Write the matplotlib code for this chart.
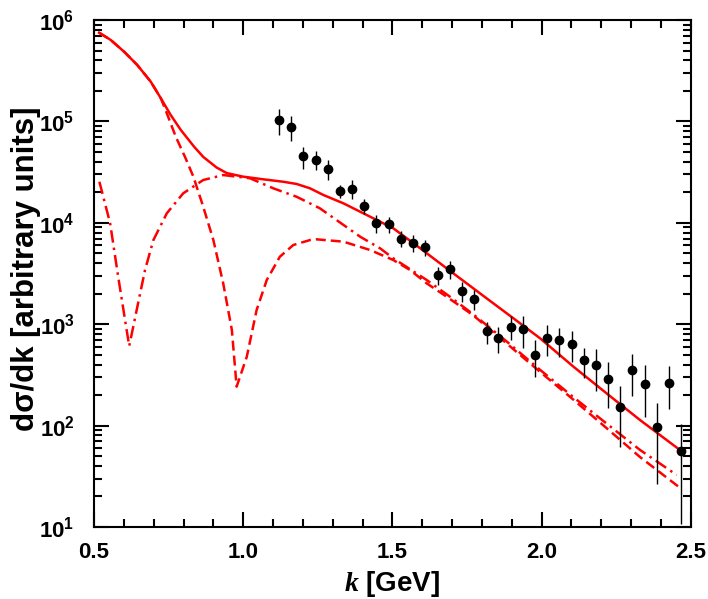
import matplotlib
matplotlib.use("Agg")
import matplotlib.pyplot as plt
import numpy as np
from matplotlib.ticker import MultipleLocator, LogLocator, FuncFormatter, FormatStrFormatter, NullFormatter

plt.rcParams["font.family"] = ["Liberation Sans", "DejaVu Sans"]
plt.rcParams["font.weight"] = "bold"
plt.rcParams["mathtext.fontset"] = "custom"
plt.rcParams["mathtext.rm"] = "Liberation Sans:bold"
plt.rcParams["mathtext.bf"] = "Liberation Sans:bold"
plt.rcParams["mathtext.it"] = "Liberation Serif:italic"

# measured spectrum (k in GeV, dsigma/dk in arbitrary units)
k_data = [1.121, 1.161, 1.202, 1.244, 1.284, 1.325, 1.366, 1.406, 1.446, 1.488,
          1.529, 1.570, 1.609, 1.652, 1.693, 1.733, 1.774, 1.816, 1.855, 1.897,
          1.937, 1.978, 2.019, 2.060, 2.102, 2.142, 2.182, 2.224, 2.264, 2.304,
          2.346, 2.387, 2.427, 2.467]
y_data = [1.03e5, 8.87e4, 4.53e4, 4.19e4, 3.37e4, 2.05e4, 2.17e4, 1.47e4, 1.00e4, 9.66e3,
          6.97e3, 6.36e3, 5.77e3, 3.08e3, 3.50e3, 2.12e3, 1.79e3, 851, 731, 944,
          903, 500, 736, 694, 638, 441, 393, 286, 154, 351,
          259, 96.8, 265, 56.6]
y_err = [3.0e4, 2.5e4, 1.1e4, 9.0e3, 7.5e3, 3.0e3, 4.5e3, 2.6e3, 2.0e3, 1.7e3,
         1.25e3, 1.2e3, 1.07e3, 620, 680, 460, 400, 210, 210, 250,
         315, 200, 250, 215, 215, 145, 172, 138, 92, 156,
         137, 70, 118, 46]

# total (solid), log10 of the cross section
k_tot = [0.517, 0.556, 0.601, 0.645, 0.690, 0.724, 0.757, 0.791, 0.835, 0.866,
         0.911, 0.945, 1.000, 1.067, 1.134, 1.179, 1.224, 1.269, 1.336, 1.414,
         1.503, 1.593, 1.704, 1.816, 1.928, 1.995, 2.107, 2.218, 2.330, 2.464]
logy_tot = [5.875, 5.803, 5.687, 5.556, 5.392, 5.228, 5.063, 4.915, 4.752, 4.650,
            4.545, 4.490, 4.455, 4.429, 4.405, 4.383, 4.340, 4.274, 4.192, 4.077,
            3.946, 3.749, 3.502, 3.255, 3.009, 2.861, 2.581, 2.318, 2.055, 1.759]

# dashed component (zero near 0.98 GeV)
k_dash = [0.517, 0.556, 0.601, 0.645, 0.690, 0.724, 0.744, 0.774, 0.807, 0.833,
          0.866, 0.900, 0.933, 0.962, 0.978, 1.012, 1.045, 1.079, 1.123, 1.168,
          1.224, 1.246, 1.336, 1.425, 1.503, 1.559, 1.615, 1.682, 1.770, 1.883,
          1.995, 2.107, 2.218, 2.330, 2.466]
logy_dash = [5.875, 5.803, 5.687, 5.556, 5.392, 5.228, 5.080, 4.849, 4.636, 4.455,
             4.159, 3.830, 3.403, 2.943, 2.384, 2.679, 3.140, 3.436, 3.666, 3.781,
             3.830, 3.837, 3.814, 3.732, 3.633, 3.535, 3.403, 3.271, 3.090, 2.810,
             2.530, 2.255, 1.975, 1.690, 1.382]

# dash-dot component (zero near 0.62 GeV)
k_dd = [0.518, 0.554, 0.581, 0.604, 0.618, 0.643, 0.671, 0.699, 0.744, 0.799,
        0.866, 0.933, 1.023, 1.101, 1.179, 1.257, 1.392, 1.459, 1.503, 1.615,
        1.693, 1.770, 1.883, 1.995, 2.107, 2.218, 2.330, 2.453]
logy_dd = [4.405, 3.995, 3.468, 3.041, 2.785, 3.140, 3.535, 3.830, 4.094, 4.291,
           4.422, 4.471, 4.439, 4.340, 4.257, 4.143, 3.863, 3.748, 3.650, 3.436,
           3.271, 3.100, 2.830, 2.550, 2.280, 2.020, 1.760, 1.513]

fig = plt.figure(figsize=(7.08, 5.99), dpi=100)
ax = fig.add_axes([0.1328, 0.1202, 0.8428, 0.8464])

red = "#ff0000"
lw = 1.8
ax.plot(k_tot, 10 ** np.asarray(logy_tot), color=red, lw=lw)
ax.plot(k_dash, 10 ** np.asarray(logy_dash), color=red, lw=lw, ls=(0, (4, 2)))
ax.plot(k_dd, 10 ** np.asarray(logy_dd), color=red, lw=lw, ls=(0, (5, 2, 1, 2)))
ax.errorbar(k_data, y_data, yerr=y_err, fmt="o", color="k", ms=6,
            elinewidth=1.0, capsize=0, zorder=5)

ax.set_yscale("log")
ax.set_xlim(0.5, 2.5)
ax.set_ylim(10, 1e6)

ax.xaxis.set_major_locator(MultipleLocator(0.5))
ax.xaxis.set_minor_locator(MultipleLocator(0.1))
ax.xaxis.set_major_formatter(FormatStrFormatter("%.1f"))
ax.yaxis.set_major_locator(LogLocator(base=10, numticks=10))
ax.yaxis.set_minor_locator(LogLocator(base=10, subs=np.arange(2, 10), numticks=20))
ax.yaxis.set_minor_formatter(NullFormatter())
ax.yaxis.set_major_formatter(FuncFormatter(lambda v, p: r"$\mathbf{10^{%d}}$" % round(np.log10(v))))

ax.tick_params(which="both", direction="in", top=True, right=True, width=1.5)
ax.tick_params(which="major", length=11, labelsize=16)
ax.tick_params(which="minor", length=5.5)
ax.tick_params(axis="x", which="major", pad=11)
ax.tick_params(axis="y", which="major", pad=14)
for s in ax.spines.values():
    s.set_linewidth(1.5)

ax.set_xlabel(r"$k$ [GeV]", fontsize=20, fontweight="bold", labelpad=4)
ax.set_ylabel("dσ/dk [arbitrary units]", fontsize=22.5, fontweight="bold")
ax.yaxis.set_label_coords(-0.089, 0.51)

fig.savefig("out.png", dpi=100)
